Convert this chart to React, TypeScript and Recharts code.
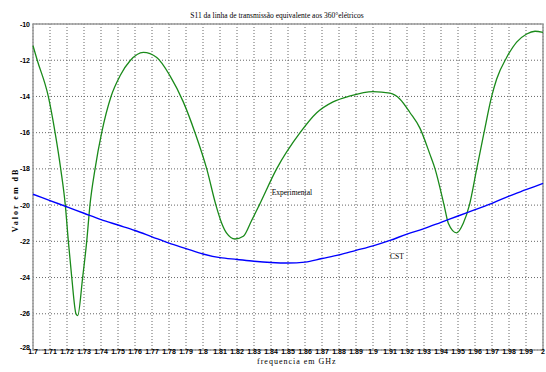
import React from "react";
import {
  LineChart,
  Line,
  XAxis,
  YAxis,
  CartesianGrid,
  ReferenceDot,
  ReferenceArea,
} from "recharts";

// Frequency ticks (GHz)
const freqTicks = [
  1.7, 1.71, 1.72, 1.73, 1.74, 1.75, 1.76, 1.77, 1.78, 1.79, 1.8, 1.81, 1.82,
  1.83, 1.84, 1.85, 1.86, 1.87, 1.88, 1.89, 1.9, 1.91, 1.92, 1.93, 1.94, 1.95,
  1.96, 1.97, 1.98, 1.99, 2,
];
const dbTicks = [-28, -26, -24, -22, -20, -18, -16, -14, -12, -10];

// Experimental measurement
const expFreq = [
  1.7, 1.7025, 1.709, 1.713, 1.7163, 1.719, 1.7208, 1.7228, 1.7253, 1.7263,
  1.7292, 1.7316, 1.7335, 1.7365, 1.7404, 1.7459, 1.7512, 1.7571, 1.7649,
  1.7728, 1.7806, 1.7884, 1.7953, 1.8022, 1.8076, 1.811, 1.8139, 1.8188,
  1.8237, 1.8286, 1.8331, 1.8433, 1.8571, 1.8669, 1.8765, 1.8865, 1.9, 1.91,
  1.9159, 1.9218, 1.9276, 1.9335, 1.9365, 1.9418, 1.9443, 1.9492, 1.9531,
  1.9567, 1.961, 1.9653, 1.9698, 1.9727, 1.9786, 1.9845, 1.9904, 1.9953, 2.0,
];
const expDb = [
  -11.2, -12.0, -14.0, -16.0, -18.0, -20.0, -22.0, -24.0, -26.0, -26.1, -24.0,
  -22.0, -20.0, -18.0, -16.0, -14.0, -12.86, -12.03, -11.57, -11.85, -12.86,
  -14.3, -16.0, -18.0, -20.0, -21.0, -21.55, -21.87, -21.72, -20.85, -20.0,
  -18.0, -16.0, -14.9, -14.3, -13.97, -13.73, -13.82, -14.15, -14.9, -15.75,
  -17.2, -18.0, -20.0, -21.0, -21.53, -21.0, -20.0, -18.0, -16.0, -14.0,
  -13.05, -11.85, -11.0, -10.55, -10.4, -10.46,
];

// CST simulation
const cstFreq = [
  1.7, 1.71, 1.72, 1.73, 1.74, 1.75, 1.76, 1.77, 1.78, 1.79, 1.8, 1.81, 1.82,
  1.83, 1.84, 1.85, 1.86, 1.87, 1.88, 1.89, 1.9, 1.91, 1.92, 1.93, 1.94, 1.95,
  1.96, 1.97, 1.98, 1.99, 2.0,
];
const cstDb = [
  -19.4, -19.75, -20.1, -20.45, -20.8, -21.1, -21.4, -21.75, -22.1, -22.4,
  -22.7, -22.9, -23.0, -23.1, -23.17, -23.2, -23.15, -22.95, -22.75, -22.5,
  -22.25, -21.95, -21.6, -21.3, -20.95, -20.6, -20.25, -19.9, -19.5, -19.15,
  -18.8,
];

const expData = expFreq.map((f, i) => ({ f, v: expDb[i] }));
const cstData = cstFreq.map((f, i) => ({ f, v: cstDb[i] }));

const fmtFreq = (v: number) => String(Math.round(v * 100) / 100);

const XTick = (props: any) => {
  const { x, payload } = props;
  return (
    <text
      x={x}
      y={354}
      textAnchor="middle"
      fontSize={7}
      fontWeight="bold"
      fontFamily="Liberation Sans, Arial, sans-serif"
      fill="#000"
    >
      {fmtFreq(payload.value)}
    </text>
  );
};

const YTick = (props: any) => {
  const { y, payload } = props;
  return (
    <text
      x={30}
      y={y}
      dy={payload.value === -28 ? -0.5 : 2.5}
      textAnchor="end"
      fontSize={7}
      fontWeight="bold"
      fontFamily="Liberation Sans, Arial, sans-serif"
      fill="#000"
    >
      {payload.value}
    </text>
  );
};

const NoTick = () => <g />;

const TextLabel = (text: string) => (props: any) => {
  const { viewBox } = props;
  return (
    <text
      x={viewBox.x}
      y={viewBox.y}
      dy={2.5}
      textAnchor="start"
      fontSize={7.5}
      fontFamily="Liberation Serif, Times New Roman, serif"
      fill="#000"
    >
      {text}
    </text>
  );
};

export default function App() {
  return (
    <div
      style={{
        position: "absolute",
        left: 0,
        top: 0,
        width: 546,
        height: 372,
        background: "#fff",
      }}
    >
      <div
        style={{
          position: "absolute",
          left: 0,
          width: 546,
          top: 11,
          textAlign: "center",
          fontFamily: "Liberation Serif, Times New Roman, serif",
          fontSize: 7.5,
          color: "#000",
          paddingLeft: 4,
        }}
      >
        S11 da linha de transmissão equivalente aos 360°elétricos
      </div>
      <div
        style={{
          position: "absolute",
          left: 257,
          top: 357,
          fontFamily: "Liberation Serif, Times New Roman, serif",
          fontSize: 8,
          letterSpacing: 1,
          color: "#000",
          whiteSpace: "nowrap",
        }}
      >
        frequencia em GHz
      </div>
      <div
        style={{
          position: "absolute",
          left: 15,
          top: 200,
          transform: "translate(-50%, -50%) rotate(-90deg)",
          fontFamily: "Liberation Serif, Times New Roman, serif",
          fontSize: 8,
          fontWeight: "bold",
          letterSpacing: 2,
          color: "#000",
          whiteSpace: "nowrap",
        }}
      >
        Valor em dB
      </div>
      <LineChart
        width={546}
        height={372}
        margin={{ top: 24, right: 3, bottom: 0, left: 0 }}
        style={{ position: "absolute", left: 0, top: 0 }}
      >
        <CartesianGrid
          stroke="#666"
          strokeDasharray="1 2"
          horizontalValues={dbTicks}
          verticalValues={freqTicks}
        />
        <XAxis
          xAxisId="inner"
          type="number"
          domain={[1.7, 2]}
          ticks={freqTicks}
          interval={0}
          height={1}
          mirror
          tick={<NoTick />}
          tickSize={4}
          tickLine={{ stroke: "#666" }}
          axisLine={false}
        />
        <XAxis
          dataKey="f"
          type="number"
          domain={[1.7, 2]}
          ticks={freqTicks}
          interval={0}
          allowDuplicatedCategory={false}
          height={22}
          tick={<XTick />}
          tickLine={false}
          axisLine={false}
        />
        <XAxis
          xAxisId="top"
          orientation="top"
          type="number"
          domain={[1.7, 2]}
          ticks={freqTicks}
          interval={0}
          height={1}
          mirror
          tick={<NoTick />}
          tickSize={4}
          tickLine={{ stroke: "#666" }}
          axisLine={false}
        />
        <YAxis
          type="number"
          domain={[-28, -10]}
          ticks={dbTicks}
          interval={0}
          width={33}
          tick={<YTick />}
          tickLine={false}
          axisLine={false}
        />
        <ReferenceArea
          x1={1.7}
          x2={2}
          y1={-28}
          y2={-10}
          fill="none"
          stroke="#999"
          strokeWidth={1.5}
        />
        <Line
          data={expData}
          dataKey="v"
          type="monotone"
          stroke="#1a8a1a"
          strokeWidth={1.3}
          dot={false}
          isAnimationActive={false}
        />
        <Line
          data={cstData}
          dataKey="v"
          type="monotone"
          stroke="#0000ff"
          strokeWidth={1.4}
          dot={false}
          isAnimationActive={false}
        />
        <ReferenceDot
          x={1.8404}
          y={-19.33}
          r={0}
          fill="none"
          stroke="none"
          label={TextLabel("Experimental")}
        />
        <ReferenceDot
          x={1.91}
          y={-22.83}
          r={0}
          fill="none"
          stroke="none"
          label={TextLabel("CST")}
        />
      </LineChart>
    </div>
  );
}
